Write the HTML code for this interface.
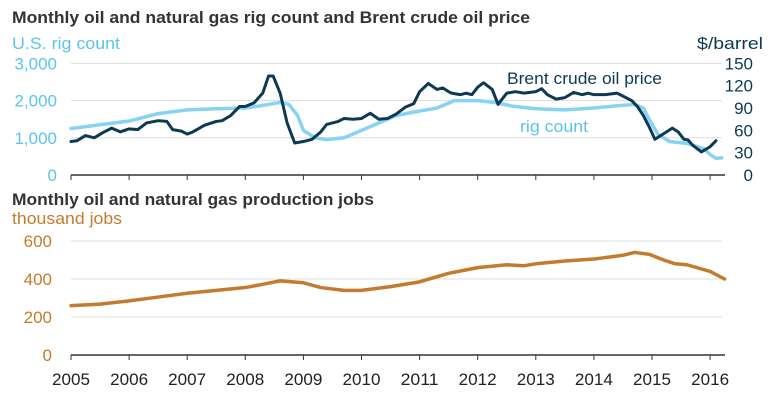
<!DOCTYPE html>
<html><head><meta charset="utf-8"><style>
body{margin:0;background:#fff;width:776px;height:400px;overflow:hidden}
svg{display:block;font-family:"Liberation Sans",Arial,sans-serif}
</style></head><body>
<svg id="c" width="776" height="400">
<text x="12" y="23" font-size="17" font-weight="bold" fill="#333" textLength="518" lengthAdjust="spacingAndGlyphs">Monthly oil and natural gas rig count and Brent crude oil price</text>
<text x="12" y="49" font-size="17" fill="#5bc4ee" textLength="108" lengthAdjust="spacingAndGlyphs">U.S. rig count</text>
<text x="697" y="49" font-size="17" fill="#0d3a52" textLength="66" lengthAdjust="spacingAndGlyphs">$/barrel</text>
<text x="12" y="205" font-size="17" font-weight="bold" fill="#333" textLength="362" lengthAdjust="spacingAndGlyphs">Monthly oil and natural gas production jobs</text>
<text x="12" y="224" font-size="17" fill="#c47b2d" textLength="110" lengthAdjust="spacingAndGlyphs">thousand jobs</text>
<text x="507" y="84" font-size="17" fill="#0d3a52" textLength="155" lengthAdjust="spacingAndGlyphs">Brent crude oil price</text>
<text x="520" y="132" font-size="17" fill="#5bc4ee" textLength="68" lengthAdjust="spacingAndGlyphs">rig count</text>
<g id="g"></g>
</svg>
<script>
const rigX=[2005,2005.5,2006,2006.5,2007,2007.5,2008,2008.3,2008.6,2008.75,2008.9,2009,2009.2,2009.4,2009.7,2010,2010.3,2010.6,2011,2011.3,2011.6,2012,2012.3,2012.6,2013,2013.5,2014,2014.4,2014.7,2014.85,2014.95,2015.1,2015.3,2015.6,2015.9,2016,2016.1,2016.2];
const rigY=[1250,1350,1450,1650,1750,1780,1800,1870,1950,1900,1600,1200,1000,950,1000,1200,1400,1600,1720,1800,2000,2000,1950,1850,1780,1750,1800,1860,1900,1800,1500,1100,900,850,700,550,450,460];
const brentX=[2005,2005.1,2005.25,2005.4,2005.55,2005.7,2005.85,2006,2006.15,2006.3,2006.5,2006.65,2006.75,2006.9,2007,2007.1,2007.3,2007.5,2007.6,2007.75,2007.9,2008,2008.15,2008.3,2008.4,2008.48,2008.6,2008.72,2008.85,2009,2009.15,2009.3,2009.4,2009.5,2009.6,2009.7,2009.85,2010,2010.15,2010.3,2010.45,2010.6,2010.75,2010.9,2011,2011.15,2011.3,2011.4,2011.5,2011.55,2011.7,2011.8,2011.9,2012,2012.1,2012.25,2012.35,2012.5,2012.65,2012.8,2013,2013.1,2013.2,2013.35,2013.5,2013.65,2013.8,2013.9,2014,2014.2,2014.4,2014.5,2014.65,2014.75,2014.85,2014.95,2015.05,2015.25,2015.35,2015.45,2015.55,2015.62,2015.7,2015.85,2016,2016.1];
const brentY=[45,46,53,50,57,63,58,62,61,70,73,72,61,59,55,58,67,72,73,80,92,92,97,110,133,133,110,70,43,45,48,58,68,70,72,76,75,76,83,75,76,82,91,96,112,123,115,117,112,110,108,110,108,118,124,115,95,110,112,110,112,116,108,102,104,111,108,110,108,108,110,106,100,92,80,65,48,58,63,58,48,47,40,31,38,46];
const jobX=[2005,2005.5,2006,2006.5,2007,2007.5,2008,2008.3,2008.6,2009,2009.3,2009.7,2010,2010.5,2011,2011.5,2012,2012.5,2012.8,2013,2013.5,2014,2014.5,2014.7,2014.95,2015.2,2015.4,2015.6,2016,2016.25];
const jobY=[260,268,285,305,325,340,355,372,390,380,355,340,340,360,385,430,460,475,470,480,495,505,525,540,530,500,480,475,440,400];
const yearTicks=[2005,2006,2007,2008,2009,2010,2011,2012,2013,2014,2015,2016];
const rigTicks=[0,1000,2000,3000];
const brentTicks=[0,30,60,90,120,150];
const jobTicks=[0,200,400,600];
const L=71,R=722;
const xs=t=>L+(t-2005)*58.1;
const yRig=v=>175-v*0.0372;
const yBrent=v=>175-v*0.744;
const yJob=v=>355-v*0.19;
const g=document.getElementById('g');const NS='http://www.w3.org/2000/svg';
function mk(tag,a){const e=document.createElementNS(NS,tag);for(const k in a)e.setAttribute(k,a[k]);g.appendChild(e);return e;}
rigTicks.forEach((v,i)=>{if(v>0){const l=mk('line',{x1:L,x2:R,y1:yRig(v),y2:yRig(v),stroke:'#ddd','stroke-width':1});

}
const t=mk('text',{x:57,y:yRig(v)+6,'font-size':17,fill:'#5bc4ee','text-anchor':'end'});t.textContent=v.toLocaleString('en-US');

});
brentTicks.forEach(v=>{const t=mk('text',{x:753,y:yBrent(v)+6,'font-size':17,fill:'#0d3a52','text-anchor':'end'});t.textContent=v;

});
jobTicks.forEach(v=>{if(v>0){const l=mk('line',{x1:L,x2:R,y1:yJob(v),y2:yJob(v),stroke:'#ddd','stroke-width':1});

}
const t=mk('text',{x:52,y:yJob(v)+6,'font-size':17,fill:'#c47b2d','text-anchor':'end'});t.textContent=v;

});
[175,355].forEach(y=>{const a=mk('line',{x1:L,x2:R+3,y1:y,y2:y,stroke:'#333','stroke-width':1.5});


yearTicks.forEach(t=>{const k=mk('line',{x1:xs(t),x2:xs(t),y1:y,y2:y+5,stroke:'#333'});

});});
yearTicks.forEach(t=>{const e=mk('text',{x:xs(t),y:385,'font-size':17,fill:'#222','text-anchor':'middle',textLength:38,lengthAdjust:'spacingAndGlyphs'});e.textContent=t;

});
function line(X,Y,yf,col,w){return mk('polyline',{points:X.map((t,i)=>xs(t)+','+yf(Y[i])).join(' '),fill:'none',stroke:col,'stroke-width':w,'stroke-linejoin':'round','stroke-linecap':'round'});}
const r=line(rigX,rigY,yRig,'#86d3f3',3.5);


const b=line(brentX,brentY,yBrent,'#0d3a52',3);


const j=line(jobX,jobY,yJob,'#c47b2d',3.5);


</script>
</body></html>
